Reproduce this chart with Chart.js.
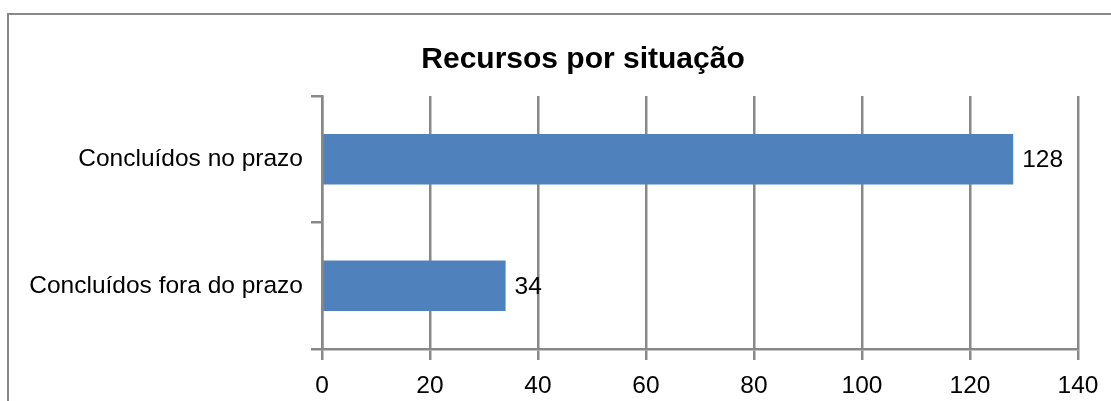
<!DOCTYPE html>
<html>
<head>
<meta charset="utf-8">
<script src="https://cdn.jsdelivr.net/npm/chart.js@4"></script>
<style>
  html, body { margin: 0; padding: 0; background: #fff; overflow: hidden; }
  #wrap { position: relative; width: 1111px; height: 401px; }
  #frame { position: absolute; left: 7px; top: 13px; width: 2000px; height: 2000px; border: 2px solid #888; }
  #chartBox { position: absolute; left: 0; top: 0; width: 1111px; height: 401px; }
</style>
</head>
<body>
<div id="wrap">
  <div id="frame"></div>
  <div id="chartBox"><canvas id="myChart"></canvas></div>
</div>
<script>
var categories = ['Concluídos no prazo', 'Concluídos fora do prazo'];
var values = [128, 34];
var xTicks = [0, 20, 40, 60, 80, 100, 120, 140];

var font = "'Liberation Sans', Arial, sans-serif";

// writes the value just right of each bar
var barLabels = {
    id: 'barLabels',
    afterDatasetsDraw: function(chart) {
        var ctx = chart.ctx;
        var meta = chart.getDatasetMeta(0);
        ctx.save();
        ctx.font = '24.5px ' + font;
        ctx.fillStyle = '#000';
        ctx.textAlign = 'left';
        ctx.textBaseline = 'middle';
        meta.data.forEach(function(bar, i) {
            ctx.fillText(values[i], bar.x + 9, bar.y + 1);
        });
        ctx.restore();
    }
};

// left padding moves the title right; let the y labels use that space again
var widenLabels = {
    id: 'widenLabels',
    afterLayout: function(chart) {
        chart.scales.y.left = 0;
    }
};

var ctx = document.getElementById('myChart');
var myChart = new Chart(ctx, {
    type: 'bar',
    data: {
        labels: categories,
        datasets: [{
            data: values,
            backgroundColor: '#4F81BD',
            borderWidth: 0,
            barPercentage: 0.4,
            categoryPercentage: 1
        }]
    },
    options: {
        indexAxis: 'y',
        responsive: true,
        maintainAspectRatio: false,
        animation: false,
        layout: { padding: { left: 88, top: 0, right: 33, bottom: 0 } },
        plugins: {
            legend: { display: false },
            tooltip: { enabled: false },
            title: {
                display: true,
                text: 'Recursos por situação',
                color: '#000',
                font: { family: font, size: 30, weight: 'bold' },
                padding: { top: 42, bottom: 18 }
            }
        },
        scales: {
            x: {
                min: 0,
                max: 140,
                afterBuildTicks: function(axis) {
                    axis.ticks = xTicks.map(function(v) { return { value: v }; });
                },
                afterFit: function(axis) { axis.height = 52; },
                grid: { color: '#888', lineWidth: 2.5, tickLength: 11 },
                border: { color: '#888', width: 2.5 },
                ticks: { color: '#000', padding: 12, font: { family: font, size: 24.5 } }
            },
            y: {
                afterFit: function(axis) { axis.width = 322 - 88; },
                grid: { color: '#888', lineWidth: 2.5, tickLength: 11, drawOnChartArea: false, offset: true },
                border: { color: '#888', width: 2.5 },
                ticks: { color: '#000', padding: 8, font: { family: font, size: 24.5 } }
            }
        }
    },
    plugins: [barLabels, widenLabels]
});
</script>
</body>
</html>
